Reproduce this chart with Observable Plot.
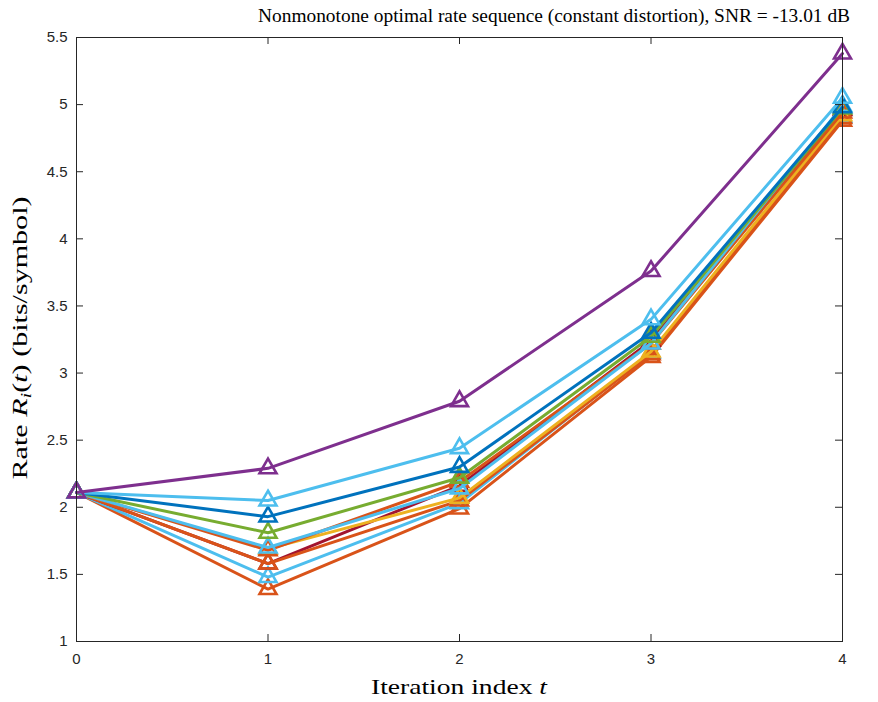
<!DOCTYPE html>
<html>
<head>
<meta charset="utf-8">
<script src="https://cdn.jsdelivr.net/npm/d3@7"></script>
<script src="https://cdn.jsdelivr.net/npm/@observablehq/plot@0.6"></script>
<style>
  body { margin: 0; background: #fff; }
  #wrap { position: relative; width: 878px; height: 702px; }
  #title { position: absolute; left: 258px; top: 1px; white-space: nowrap;
           font-family: "Liberation Serif", "DejaVu Serif", serif; font-size: 19.4px; color: #000; line-height: 30px; }
  #chart { position: absolute; left: 0; top: 30px; }
</style>
</head>
<body>
<div id="wrap">
  <div id="title">Nonmonotone optimal rate sequence (constant distortion), SNR = -13.01 dB</div>
  <div id="chart"></div>
</div>
<script>
// Iteration index
const iterations = [0, 1, 2, 3, 4];
// Series (drawn in this order; later on top)
const seriesNames = ["s1", "s2", "s6", "s3", "s4", "s7", "s5", "s8", "s9", "s10", "s11"];
const seriesColors = ["#D95319", "#4DBEEE", "#A2142F", "#D95319", "#EDB120", "#D95319", "#4DBEEE", "#77AC30", "#0072BD", "#4DBEEE", "#7E2F8E"];
const rate_s1  = [2.11, 1.39, 1.99, 3.12, 4.88];
const rate_s2  = [2.11, 1.48, 2.03, 3.15, 4.91];
const rate_s6  = [2.11, 1.58, 2.16, 3.24, 4.96];
const rate_s3  = [2.11, 1.58, 2.05, 3.14, 4.90];
const rate_s4  = [2.11, 1.69, 2.07, 3.16, 4.92];
const rate_s7  = [2.11, 1.68, 2.19, 3.22, 4.94];
const rate_s5  = [2.11, 1.70, 2.14, 3.22, 4.99];
const rate_s8  = [2.11, 1.81, 2.22, 3.27, 4.97];
const rate_s9  = [2.11, 1.93, 2.30, 3.30, 4.98];
const rate_s10 = [2.11, 2.05, 2.44, 3.40, 5.05];
const rate_s11 = [2.11, 2.29, 2.79, 3.76, 5.38];
const seriesValues = [rate_s1, rate_s2, rate_s6, rate_s3, rate_s4, rate_s7, rate_s5, rate_s8, rate_s9, rate_s10, rate_s11];
// Ticks
const xTicks = [0, 1, 2, 3, 4];
const xTickLabels = ["0", "1", "2", "3", "4"];
const yTicks = [1, 1.5, 2, 2.5, 3, 3.5, 4, 4.5, 5, 5.5];
const yTickLabels = ["1", "1.5", "2", "2.5", "3", "3.5", "4", "4.5", "5", "5.5"];

const W = 878, H = 672;
const mL = 76, mR = 36, mT = 7, mB = 61;
const xUnit = 4 / (W - mL - mR);        // data units per px
const yUnit = 4.5 / (H - mT - mB);
const tickLen = 7;
const axisColor = "#262626";

const marks = [];
seriesNames.forEach((name, i) => {
  const rows = iterations.map((t, j) => ({t, v: seriesValues[i][j], c: seriesColors[i]}));
  marks.push(Plot.line(rows, {x: "t", y: "v", stroke: "c", strokeWidth: 3, strokeLinejoin: "miter"}));
  marks.push(Plot.dot(rows, {x: "t", y: "v", stroke: "c", symbol: "triangle", r: 6.3, strokeWidth: 2.6, fill: "none"}));
});
// inward ticks on all four sides
marks.push(Plot.ruleY(yTicks, {y: d => d, x1: 0, x2: tickLen * xUnit, stroke: axisColor, strokeWidth: 1}));
marks.push(Plot.ruleY(yTicks, {y: d => d, x1: 4 - tickLen * xUnit, x2: 4, stroke: axisColor, strokeWidth: 1}));
marks.push(Plot.ruleX(xTicks, {x: d => d, y1: 1, y2: 1 + tickLen * yUnit, stroke: axisColor, strokeWidth: 1}));
marks.push(Plot.ruleX(xTicks, {x: d => d, y1: 5.5 - tickLen * yUnit, y2: 5.5, stroke: axisColor, strokeWidth: 1}));
marks.push(Plot.frame({stroke: axisColor, strokeWidth: 1}));
marks.push(Plot.axisY(yTicks, {tickSize: 0, tickPadding: 9, tickFormat: (d, i) => yTickLabels[i], fontSize: 15, label: null, fill: axisColor}));
marks.push(Plot.axisX(xTicks, {tickSize: 0, tickPadding: 12, tickFormat: (d, i) => xTickLabels[i], fontSize: 15, label: null, fill: axisColor}));

const plot = Plot.plot({
  width: W, height: H,
  marginLeft: mL, marginRight: mR, marginTop: mT, marginBottom: mB,
  x: {domain: [0, 4]},
  y: {domain: [1, 5.5]},
  color: {type: "identity"},
  style: {fontFamily: "'Liberation Sans', Arial, sans-serif", background: "#fff", overflow: "visible"},
  marks
});
document.getElementById("chart").appendChild(plot);

// axis titles with italic math parts
const svg = d3.select(plot);
const serif = "'Liberation Serif', 'DejaVu Serif', serif";
const xl = svg.append("text")
  .attr("x", (mL + (W - mR)) / 2).attr("y", 664)
  .attr("text-anchor", "middle").attr("font-family", serif).attr("font-size", 22).attr("fill", "#000")
  .attr("textLength", 176).attr("lengthAdjust", "spacingAndGlyphs");
xl.append("tspan").text("Iteration index ");
xl.append("tspan").attr("font-style", "italic").text("t");

const yl = svg.append("text")
  .attr("transform", `translate(27,${338 - 30}) rotate(-90)`)
  .attr("text-anchor", "middle").attr("font-family", serif).attr("font-size", 22).attr("fill", "#000")
  .attr("textLength", 283).attr("lengthAdjust", "spacingAndGlyphs");
yl.append("tspan").text("Rate ");
yl.append("tspan").attr("font-style", "italic").text("R");
yl.append("tspan").attr("font-style", "italic").attr("font-size", 15).attr("dy", 4).text("i");
yl.append("tspan").attr("dy", -4).text("(");
yl.append("tspan").attr("font-style", "italic").text("t");
yl.append("tspan").text(") (bits/symbol)");
</script>
</body>
</html>
